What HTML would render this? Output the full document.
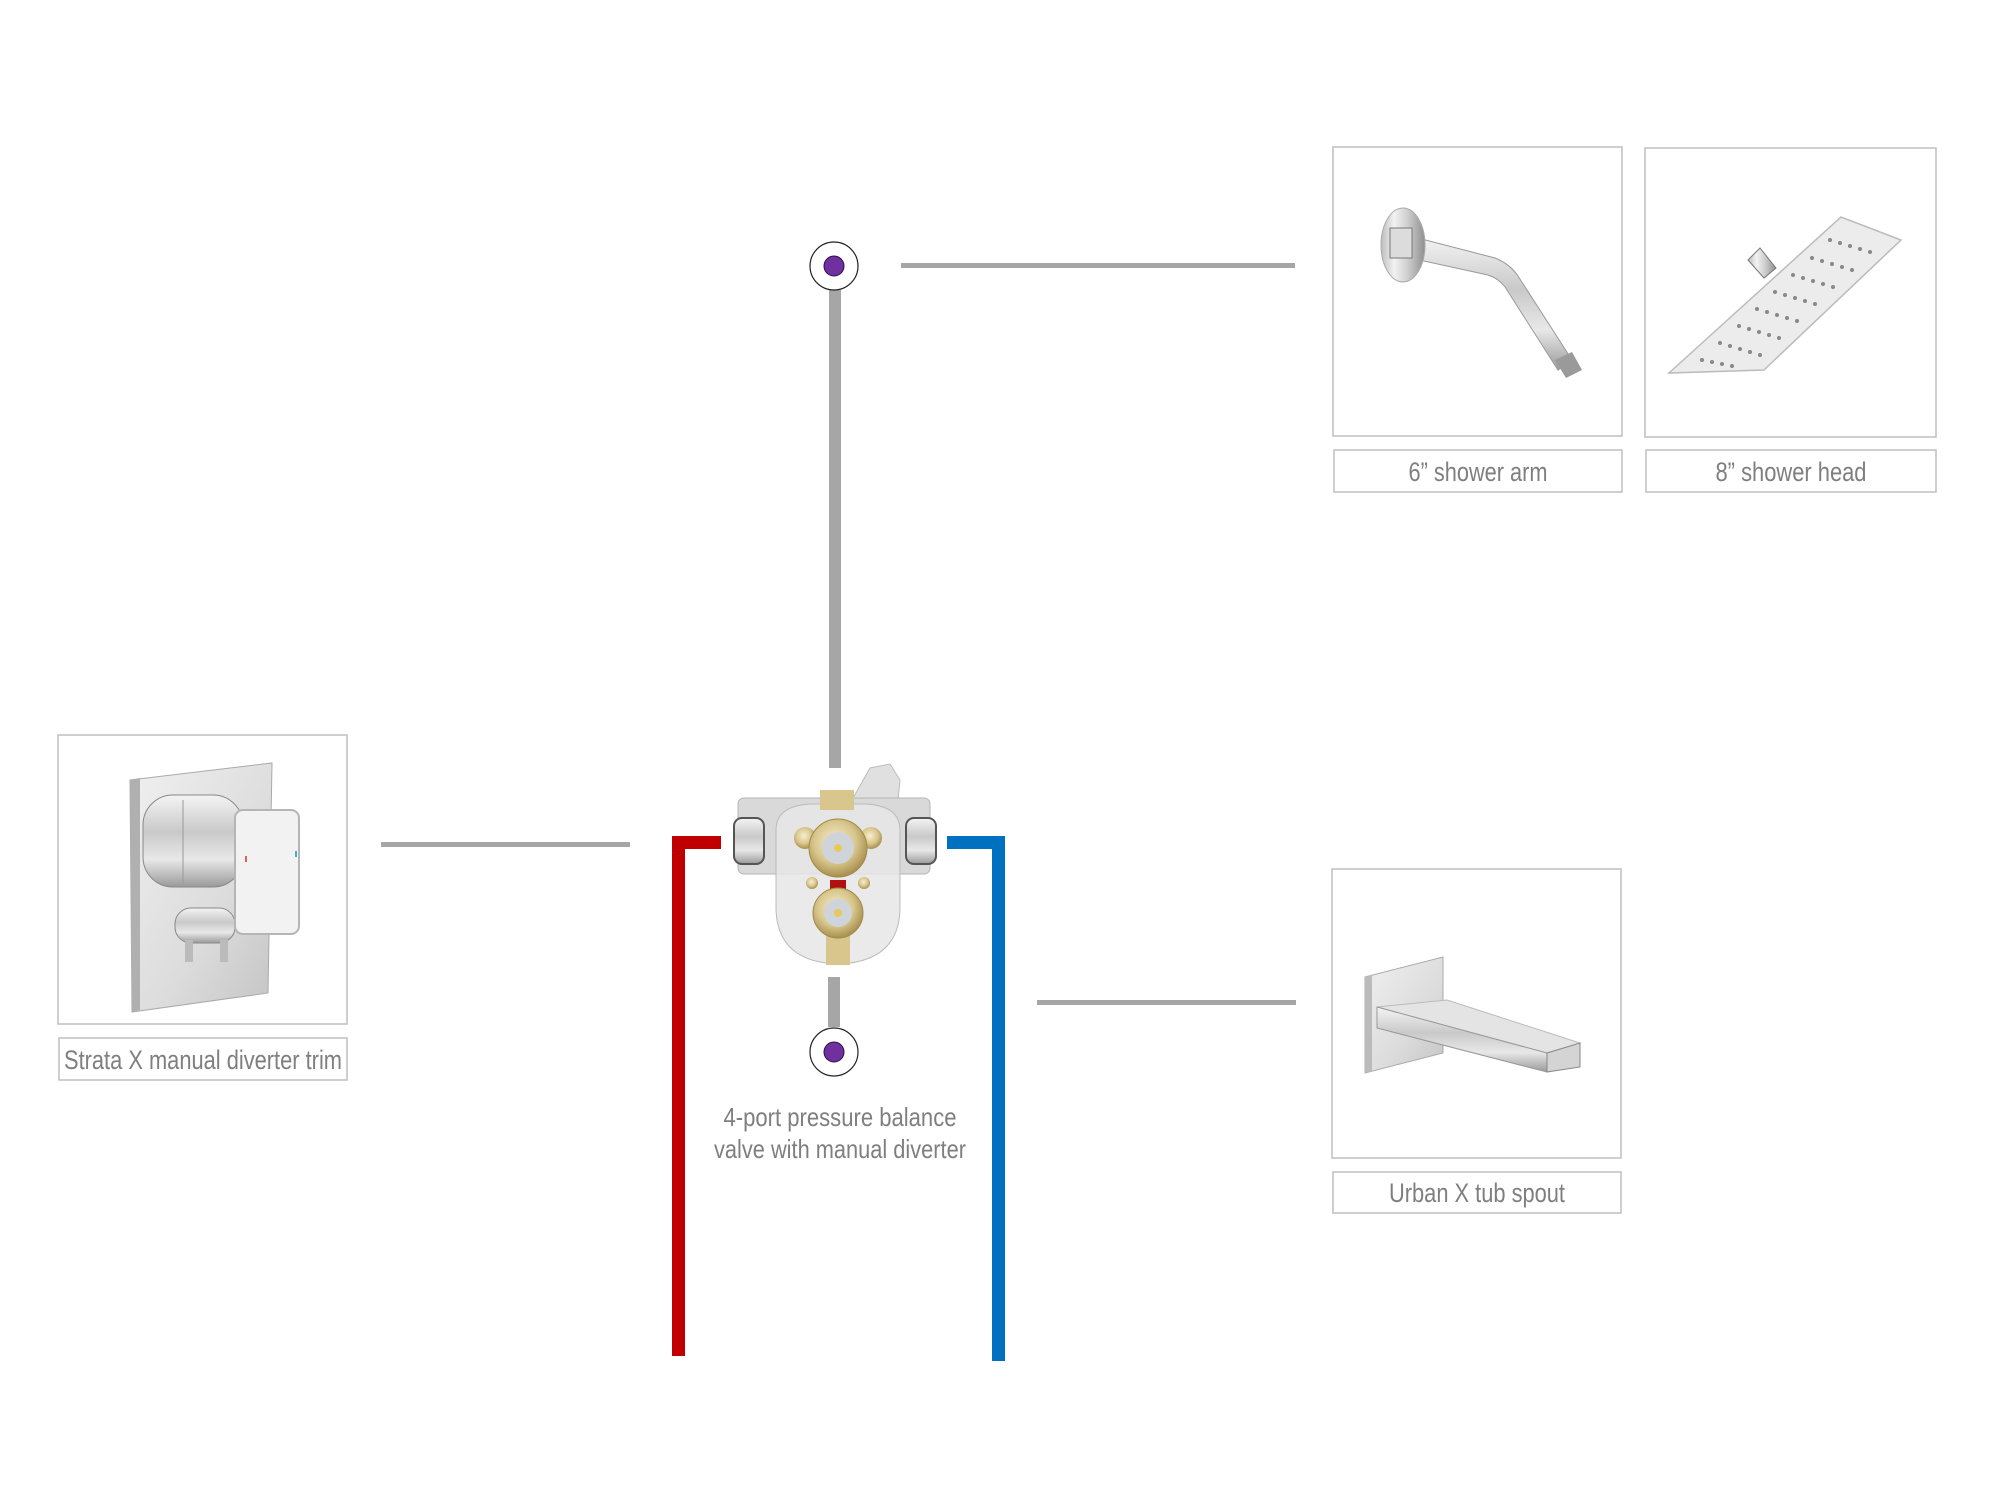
<!DOCTYPE html>
<html><head><meta charset="utf-8"><style>
html,body{margin:0;padding:0;background:#fff;}
body{width:2016px;height:1512px;overflow:hidden;position:relative;}
svg{position:absolute;left:0;top:0;}
</style></head><body>
<svg width="2016" height="1512" viewBox="0 0 2016 1512" xmlns="http://www.w3.org/2000/svg" font-family="'Liberation Sans Narrow','Liberation Sans',sans-serif">
<defs>
<linearGradient id="chrome" x1="0" y1="0" x2="0" y2="1">
<stop offset="0" stop-color="#f4f4f4"/><stop offset="0.4" stop-color="#c9c9c9"/><stop offset="0.7" stop-color="#e8e8e8"/><stop offset="1" stop-color="#9a9a9a"/></linearGradient>
<linearGradient id="chromeH" x1="0" y1="0" x2="1" y2="0">
<stop offset="0" stop-color="#bdbdbd"/><stop offset="0.3" stop-color="#f2f2f2"/><stop offset="0.6" stop-color="#cfcfcf"/><stop offset="1" stop-color="#8f8f8f"/></linearGradient>
<linearGradient id="plate" x1="0" y1="0" x2="1" y2="1">
<stop offset="0" stop-color="#f0f0f0"/><stop offset="0.6" stop-color="#dcdcdc"/><stop offset="1" stop-color="#c4c4c4"/></linearGradient>
<radialGradient id="brass" cx="0.45" cy="0.4" r="0.6">
<stop offset="0" stop-color="#f6eed0"/><stop offset="0.6" stop-color="#d8c68c"/><stop offset="1" stop-color="#a8904e"/></radialGradient>
</defs>

<!-- connectors -->
<rect x="829" y="290" width="12" height="478" fill="#a6a6a6"/>
<rect x="901" y="263" width="394" height="5" fill="#a6a6a6"/>
<rect x="381" y="842" width="249" height="5" fill="#a6a6a6"/>
<rect x="1037" y="1000" width="259" height="5" fill="#a6a6a6"/>
<rect x="828" y="977" width="12" height="50" fill="#a6a6a6"/>

<!-- pipes -->
<rect x="672" y="836" width="49" height="13" fill="#c00000"/>
<rect x="672" y="836" width="13" height="520" fill="#c00000"/>
<rect x="947" y="836" width="58" height="13" fill="#0070c0"/>
<rect x="992" y="836" width="13" height="525" fill="#0070c0"/>

<!-- nodes -->
<circle cx="834" cy="266" r="24" fill="#fff" stroke="#222" stroke-width="1.2"/>
<circle cx="834" cy="266" r="10" fill="#7030a0" stroke="#2a1040" stroke-width="1"/>
<circle cx="834" cy="1052" r="24" fill="#fff" stroke="#222" stroke-width="1.2"/>
<circle cx="834" cy="1052" r="10" fill="#7030a0" stroke="#2a1040" stroke-width="1"/>

<!-- valve -->
<g>
<path d="M852 800 L870 768 L890 764 L900 780 L898 800 Z" fill="#e0e0e0" stroke="#bdbdbd"/>
<rect x="738" y="798" width="192" height="76" rx="6" fill="#d9d9d9" stroke="#b5b5b5"/>
<rect x="734" y="818" width="30" height="46" rx="8" fill="url(#chrome)" stroke="#555" stroke-width="2"/>
<rect x="906" y="818" width="30" height="46" rx="8" fill="url(#chrome)" stroke="#555" stroke-width="2"/>
<path d="M776 830 Q776 806 810 804 L866 804 Q900 806 900 830 L900 910 Q898 962 838 964 Q778 962 776 910 Z" fill="#e6e6e6" fill-opacity="0.85" stroke="#bbb"/>
<rect x="820" y="790" width="34" height="20" fill="#d8c68c"/>
<rect x="826" y="935" width="24" height="30" fill="#d8c68c"/>
<rect x="830" y="880" width="16" height="22" fill="#b01010"/>
<circle cx="805" cy="838" r="11" fill="url(#brass)"/>
<circle cx="871" cy="838" r="11" fill="url(#brass)"/>
<circle cx="838" cy="848" r="29" fill="url(#brass)" stroke="#a08a48"/>
<circle cx="838" cy="848" r="16" fill="#cfd4da"/>
<circle cx="838" cy="848" r="4" fill="#e6c95a"/>
<circle cx="838" cy="913" r="25" fill="url(#brass)" stroke="#a08a48"/>
<circle cx="838" cy="913" r="14" fill="#cfd4da"/>
<circle cx="838" cy="913" r="4" fill="#e6c95a"/>
<circle cx="812" cy="883" r="6" fill="url(#brass)"/>
<circle cx="864" cy="883" r="6" fill="url(#brass)"/>
</g>

<!-- valve label -->
<g fill="#7f7f7f" font-size="26" text-anchor="middle">
<text x="840" y="1126" textLength="233" lengthAdjust="spacingAndGlyphs">4-port pressure balance</text>
<text x="840" y="1158" textLength="252" lengthAdjust="spacingAndGlyphs">valve with manual diverter</text>
</g>

<!-- cards -->
<g fill="#fff" stroke="#bfbfbf" stroke-width="1.5">
<rect x="1333" y="147" width="289" height="289"/>
<rect x="1334" y="450" width="288" height="42"/>
<rect x="1645" y="148" width="291" height="289"/>
<rect x="1646" y="450" width="290" height="42"/>
<rect x="1332" y="869" width="289" height="289"/>
<rect x="1333" y="1172" width="288" height="41"/>
<rect x="58" y="735" width="289" height="289"/>
<rect x="59" y="1038" width="288" height="42"/>
</g>

<g fill="#7f7f7f" font-size="27" text-anchor="middle">
<text x="1478" y="481" textLength="139" lengthAdjust="spacingAndGlyphs">6” shower arm</text>
<text x="1791" y="481" textLength="151" lengthAdjust="spacingAndGlyphs">8” shower head</text>
<text x="1477" y="1202" textLength="176" lengthAdjust="spacingAndGlyphs">Urban X tub spout</text>
<text x="203" y="1069" textLength="278" lengthAdjust="spacingAndGlyphs">Strata X manual diverter trim</text>
</g>

<!-- shower arm -->
<g>
<path d="M1410 236 L1495 258 Q1510 264 1518 276 L1572 360 L1558 370 L1505 287 Q1498 278 1488 275 L1410 258 Z" fill="url(#chrome)" stroke="#999" stroke-width="1"/>
<path d="M1555 360 L1572 352 L1582 370 L1566 378 Z" fill="#9a9a9a"/>
<ellipse cx="1403" cy="245" rx="22" ry="37" fill="url(#chromeH)" stroke="#aaa"/>
<rect x="1390" y="228" width="22" height="30" fill="#dcdcdc" stroke="#777"/>
</g>

<!-- shower head -->
<g>
<path d="M1669 373 L1841 217 L1901 240 L1764 370 Z" fill="#ececec" stroke="#bbb" stroke-width="1.5"/>
<path d="M1748 260 L1760 248 L1776 268 L1764 278 Z" fill="url(#chromeH)" stroke="#777"/>
<g fill="#888">
<circle cx="1830" cy="240" r="2"/><circle cx="1840" cy="243" r="2"/><circle cx="1850" cy="246" r="2"/><circle cx="1860" cy="249" r="2"/><circle cx="1870" cy="252" r="2"/>
<circle cx="1812" cy="258" r="2"/><circle cx="1822" cy="261" r="2"/><circle cx="1832" cy="264" r="2"/><circle cx="1842" cy="267" r="2"/><circle cx="1852" cy="270" r="2"/>
<circle cx="1793" cy="275" r="2"/><circle cx="1803" cy="278" r="2"/><circle cx="1813" cy="281" r="2"/><circle cx="1823" cy="284" r="2"/><circle cx="1833" cy="287" r="2"/>
<circle cx="1775" cy="292" r="2"/><circle cx="1785" cy="295" r="2"/><circle cx="1795" cy="298" r="2"/><circle cx="1805" cy="301" r="2"/><circle cx="1815" cy="304" r="2"/>
<circle cx="1757" cy="309" r="2"/><circle cx="1767" cy="312" r="2"/><circle cx="1777" cy="315" r="2"/><circle cx="1787" cy="318" r="2"/><circle cx="1797" cy="321" r="2"/>
<circle cx="1739" cy="326" r="2"/><circle cx="1749" cy="329" r="2"/><circle cx="1759" cy="332" r="2"/><circle cx="1769" cy="335" r="2"/><circle cx="1779" cy="338" r="2"/>
<circle cx="1720" cy="343" r="2"/><circle cx="1730" cy="346" r="2"/><circle cx="1740" cy="349" r="2"/><circle cx="1750" cy="352" r="2"/><circle cx="1760" cy="355" r="2"/>
<circle cx="1702" cy="360" r="2"/><circle cx="1712" cy="362" r="2"/><circle cx="1722" cy="364" r="2"/><circle cx="1732" cy="366" r="2"/>
</g>
</g>

<!-- tub spout -->
<g>
<path d="M1365 977 L1443 957 L1443 1053 L1365 1073 Z" fill="url(#plate)" stroke="#aaa"/>
<path d="M1365 977 L1372 975 L1372 1071 L1365 1073 Z" fill="#bbb"/>
<path d="M1377 1007 L1447 1000 L1580 1043 L1547 1053 Z" fill="#e4e4e4" stroke="#bbb"/>
<path d="M1377 1007 L1547 1053 L1547 1072 L1377 1028 Z" fill="url(#chrome)" stroke="#999"/>
<path d="M1547 1053 L1580 1043 L1580 1067 L1547 1072 Z" fill="#d4d4d4" stroke="#888"/>
</g>

<!-- strata trim -->
<g>
<path d="M130 780 L272 763 L268 993 L132 1012 Z" fill="url(#plate)" stroke="#aaa"/>
<path d="M130 780 L140 778 L140 1010 L132 1012 Z" fill="#b0b0b0"/>
<rect x="143" y="795" width="100" height="92" rx="30" fill="url(#chrome)" stroke="#888"/>
<line x1="183" y1="800" x2="183" y2="884" stroke="#999"/>
<rect x="175" y="908" width="60" height="35" rx="16" fill="url(#chrome)" stroke="#888"/>
<rect x="185" y="940" width="8" height="22" fill="#bbb"/>
<rect x="220" y="940" width="8" height="22" fill="#bbb"/>
<rect x="235" y="810" width="64" height="124" rx="8" fill="#f2f2f2" stroke="#b5b5b5" stroke-width="2"/>
<rect x="245" y="856" width="2" height="6" fill="#e06060"/>
<rect x="295" y="851" width="2" height="6" fill="#40b0d0"/>
</g>
</svg>
</body></html>
